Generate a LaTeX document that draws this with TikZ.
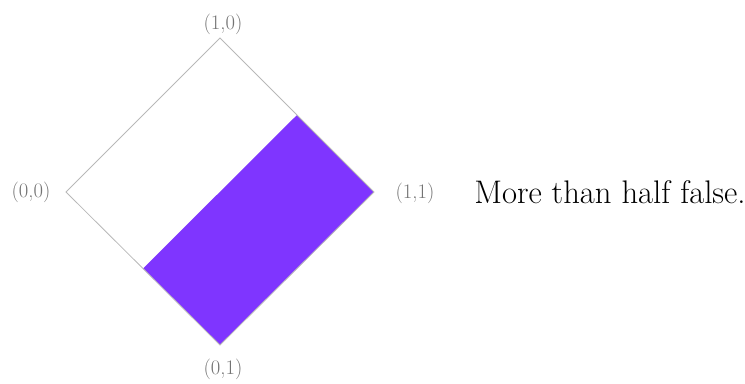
\documentclass[tikz,border=0pt]{standalone}
\usepackage{xcolor}
\usetikzlibrary{calc}
\definecolor{falsepurple}{RGB}{127,53,255}
\tikzset{
  corner/.style={text=black!55, font=\fontsize{15.5}{18}\selectfont, inner sep=0pt},
  edge/.style={draw=black!28, line width=0.6pt},
}
\begin{document}
\begin{tikzpicture}[x=0.75pt, y=-0.75pt]
  \useasboundingbox (0,0) rectangle (745,383);

  % corners of the unit square, turned on its tip
  \coordinate (p00) at (66,192);
  \coordinate (p10) at (220,38);
  \coordinate (p11) at (374,192);
  \coordinate (p01) at (220,345);

  % the false half
  \fill[falsepurple] ($(p00)!0.5!(p01)$) -- (p01) -- (p11) -- ($(p10)!0.5!(p11)$) -- cycle;
  \draw[edge] (p00) -- (p10) -- (p11) -- (p01) -- cycle;

  \node[corner] (l10) at (223,24) {(1,0)};
  \node[corner] (l00) at (31,192) {(0,0)};
  \node[corner] (l11) at (415,193) {(1,1)};
  \node[corner] (l01) at (223,369) {(0,1)};

  \node[anchor=west, inner sep=0pt, font=\fontsize{24.5}{28}\selectfont] (caption) at (474,192) {More than half false.};
\end{tikzpicture}
\end{document}
